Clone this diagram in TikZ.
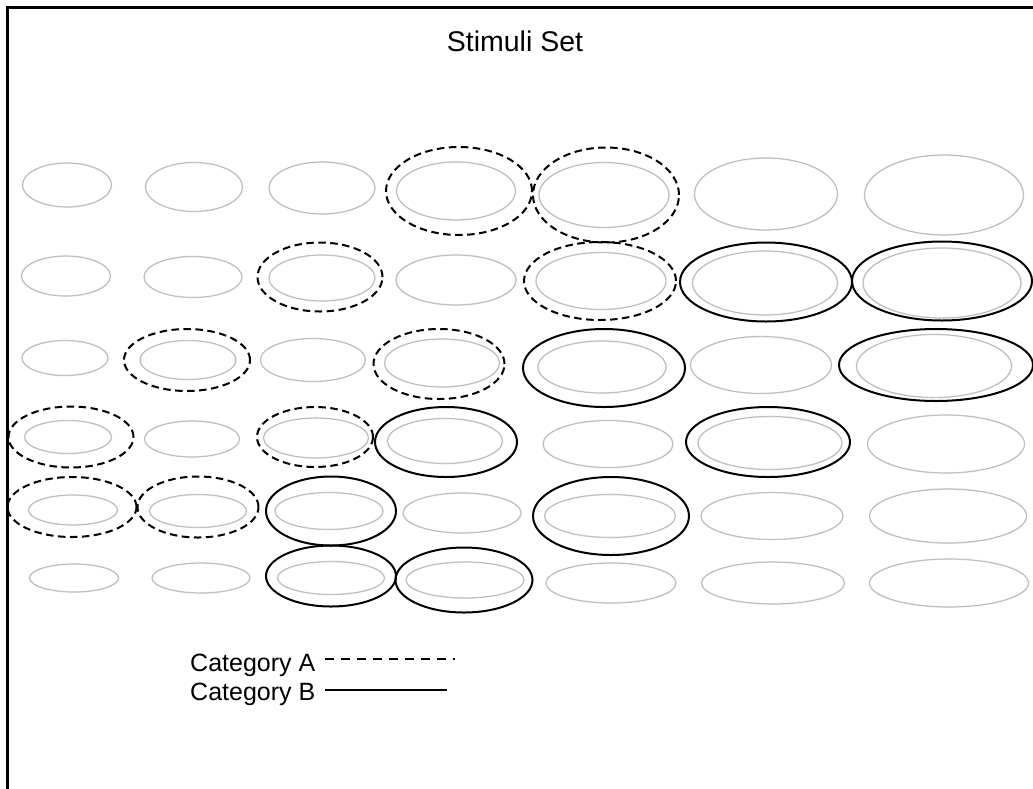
\documentclass[tikz,border=0pt]{standalone}
\usepackage{fontspec}
\setmainfont{Liberation Sans}
\usetikzlibrary{shapes.geometric}

\tikzset{
  stim/.style={ellipse, inner sep=0pt, draw=black!15, line width=1.6pt,
    postaction={draw=black!38, line width=0.3pt}},
  catA/.style={ellipse, inner sep=0pt, draw=black, line width=2pt,
    dash pattern=on 7.5pt off 4.5pt},
  catB/.style={ellipse, inner sep=0pt, draw=black, line width=2pt},
  frame/.style={line width=2.2pt, line cap=rect},
  legendtext/.style={anchor=base west, inner sep=0pt, font=\fontsize{25}{29}\selectfont},
}

% stimulus: \stimcell{name}{x}{y}{width}{height}
\newcommand{\stimcell}[5]{\node[stim, minimum width=#4pt, minimum height=#5pt] (#1) at (#2,#3) {};}
% category outline: \outline{style}{name}{x}{y}{width}{height}
\newcommand{\outline}[6]{\node[#1, minimum width=#5pt, minimum height=#6pt] (#2) at (#3,#4) {};}

\begin{document}
\begin{tikzpicture}[x=1pt, y=-1pt]
\useasboundingbox (0,0) rectangle (1033,788);

% frame (top and left edges)
\coordinate (ftr) at (1040,7.5);
\coordinate (ftl) at (7.5,7.5);
\coordinate (fbl) at (7.5,795);
\draw[frame] (ftr) -- (ftl) -- (fbl);

\node[font=\fontsize{28.5}{34}\selectfont] (title) at (515,41) {Stimuli Set};

% row 1
\stimcell{s11}{67}{185}{89}{44}
\stimcell{s12}{194}{187}{97}{49}
\stimcell{s13}{322}{188}{106}{52}
\stimcell{s14}{456}{191}{119}{58}
\stimcell{s15}{604}{195}{130}{65}
\stimcell{s16}{766}{194}{143}{72}
\stimcell{s17}{944}{195}{159}{80}
% row 2
\stimcell{s21}{66}{276}{89}{40}
\stimcell{s22}{193}{277}{98}{41}
\stimcell{s23}{322}{278}{106}{46}
\stimcell{s24}{456}{280}{120}{50}
\stimcell{s25}{601}{281}{130}{57}
\stimcell{s26}{765}{283}{145}{64}
\stimcell{s27}{942}{283}{158}{70}
% row 3
\stimcell{s31}{65}{358}{86}{35}
\stimcell{s32}{188}{360}{96}{39}
\stimcell{s33}{313}{360}{105}{43}
\stimcell{s34}{442}{363}{115}{48}
\stimcell{s35}{602}{367}{128}{52}
\stimcell{s36}{761}{365}{141}{57}
\stimcell{s37}{934}{366}{155}{63}
% row 4
\stimcell{s41}{68}{437}{87}{33}
\stimcell{s42}{192}{439}{95}{36}
\stimcell{s43}{316}{438}{105}{40}
\stimcell{s44}{445}{441}{115}{45}
\stimcell{s45}{608}{444}{130}{47}
\stimcell{s46}{770}{443}{144}{53}
\stimcell{s47}{946}{444}{157}{58}
% row 5
\stimcell{s51}{73}{510}{89}{30}
\stimcell{s52}{198}{511}{97}{33}
\stimcell{s53}{329}{511}{108}{37}
\stimcell{s54}{462}{513}{118}{40}
\stimcell{s55}{610}{516}{131}{43}
\stimcell{s56}{772}{516}{142}{47}
\stimcell{s57}{948}{516}{157}{54}
% row 6
\stimcell{s61}{74}{578}{89}{28}
\stimcell{s62}{201}{578}{98}{30}
\stimcell{s63}{331}{578}{107}{33}
\stimcell{s64}{465}{580}{118}{36}
\stimcell{s65}{611}{583}{130}{40}
\stimcell{s66}{773}{583}{143}{42}
\stimcell{s67}{949}{583}{159}{48}

% category A members
\outline{catA}{a14}{459}{191}{146}{88}
\outline{catA}{a15}{606}{195}{146}{95}
\outline{catA}{a23}{320}{277}{125}{69}
\outline{catA}{a25}{600}{281}{152}{78}
\outline{catA}{a32}{187}{360}{126}{62}
\outline{catA}{a34}{439}{364}{131}{70}
\outline{catA}{a41}{71}{437}{125}{61}
\outline{catA}{a43}{315}{437}{116}{60}
\outline{catA}{a51}{72}{507}{129}{60}
\outline{catA}{a52}{198}{507}{121}{61}

% category B members
\outline{catB}{b26}{766}{282}{172}{79}
\outline{catB}{b27}{942}{281}{180}{79}
\outline{catB}{b35}{604}{368}{162}{78}
\outline{catB}{b37}{936}{365}{194}{72}
\outline{catB}{b44}{446}{442}{142}{70}
\outline{catB}{b46}{768}{442}{164}{70}
\outline{catB}{b53}{331}{511}{130}{69}
\outline{catB}{b55}{611}{516}{156}{78}
\outline{catB}{b63}{331}{576}{130}{61}
\outline{catB}{b64}{464}{580}{137}{65}

% legend
\node[legendtext] (legA) at (190,671) {Category A};
\node[legendtext] (legB) at (190,700) {Category B};
\coordinate (legAend) at (455,659);
\coordinate (legBend) at (447,690);
\draw[line width=1.9pt, dash pattern=on 9pt off 7pt] ([xshift=10pt]legA.east |- legAend) -- (legAend);
\draw[line width=1.9pt] ([xshift=10pt]legB.east |- legBend) -- (legBend);
\end{tikzpicture}
\end{document}
